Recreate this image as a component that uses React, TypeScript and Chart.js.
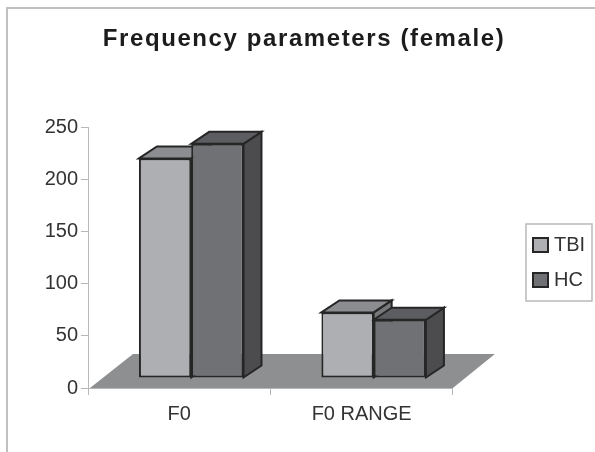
import React, { useEffect, useRef } from "react";
import { Chart, registerables } from "chart.js";

Chart.register(...registerables);

const categories = ["F0", "F0 RANGE"];
const tbiValues = [211, 63];
const hcValues = [225, 56];
const yTicks = [0, 50, 100, 150, 200, 250];
const seriesNames = ["TBI", "HC"];

const FONT = "'Liberation Sans', Arial, sans-serif";
const TBI_FRONT = "#aeafb2";
const TBI_TOP = "#8c8d90";
const TBI_SIDE = "#77787a";
const HC_FRONT = "#707174";
const HC_TOP = "#5c5d60";
const HC_SIDE = "#4c4c4e";
const EDGE = "#262626";
const LEGEND_BOX = { left: 526, top: 224, right: 592, bottom: 301 };

const poly = (ctx: CanvasRenderingContext2D, pts: number[][], fill: string, stroke?: string, lw = 2) => {
  ctx.beginPath();
  pts.forEach((p, i) => (i ? ctx.lineTo(p[0], p[1]) : ctx.moveTo(p[0], p[1])));
  ctx.closePath();
  ctx.fillStyle = fill;
  ctx.fill();
  if (stroke) {
    ctx.strokeStyle = stroke;
    ctx.lineWidth = lw;
    ctx.stroke();
  }
};

const BAR_SHIFT_X = 12;
const BAR_SHIFT_Y = -10;
const DEPTH_X = 18;
const DEPTH_Y = -12;

const scene = {
  id: "scene",
  beforeDraw(chart: any) {
    const { ctx } = chart;
    ctx.save();
    ctx.strokeStyle = "#c0c0c0";
    ctx.lineWidth = 2;
    ctx.beginPath();
    ctx.moveTo(7, 452);
    ctx.lineTo(7, 8);
    ctx.lineTo(595, 8);
    ctx.stroke();
    const a = chart.chartArea;
    poly(ctx, [
      [a.left + 2, a.bottom],
      [a.right, a.bottom],
      [a.right + 42, a.bottom - 34],
      [a.left + 45, a.bottom - 34],
    ], "#8e8f91");
    ctx.restore();
  },
  beforeDatasetsDraw(chart: any) {
    const { ctx } = chart;
    ctx.save();
    ctx.translate(BAR_SHIFT_X, BAR_SHIFT_Y);
    const tops = [TBI_TOP, HC_TOP];
    const sides = [TBI_SIDE, HC_SIDE];
    for (let d = 0; d < 2; d++) {
      chart.getDatasetMeta(d).data.forEach((bar: any) => {
        const l = bar.x - bar.width / 2;
        const r = bar.x + bar.width / 2;
        poly(ctx, [[r, bar.base], [r + DEPTH_X, bar.base + DEPTH_Y], [r + DEPTH_X, bar.y + DEPTH_Y], [r, bar.y]], sides[d], EDGE);
        poly(ctx, [[l, bar.y], [l + DEPTH_X, bar.y + DEPTH_Y], [r + DEPTH_X, bar.y + DEPTH_Y], [r, bar.y]], tops[d], EDGE);
      });
    }
  },
  afterDatasetsDraw(chart: any) {
    chart.ctx.restore();
  },
  afterLayout(chart: any) {
    const lg = chart.legend;
    const w = lg.right - lg.left;
    const h = lg.bottom - lg.top;
    lg.left = 518;
    lg.right = lg.left + w;
    lg.top = (LEGEND_BOX.top + LEGEND_BOX.bottom) / 2 - h / 2;
    lg.bottom = lg.top + h;

    const tb = chart.titleBlock;
    tb.left += 39;
    tb.right += 39;
    if (!tb.__spaced) {
      const original = tb.draw;
      tb.draw = function (...args: any[]) {
        chart.ctx.save();
        chart.ctx.letterSpacing = "1.6px";
        original.apply(this, args);
        chart.ctx.restore();
      };
      tb.__spaced = true;
    }
  },
  afterDraw(chart: any) {
    const { ctx } = chart;
    ctx.save();
    ctx.strokeStyle = "#b9b9b9";
    ctx.lineWidth = 1.5;
    ctx.strokeRect(LEGEND_BOX.left, LEGEND_BOX.top, LEGEND_BOX.right - LEGEND_BOX.left, LEGEND_BOX.bottom - LEGEND_BOX.top);
    const fronts = [TBI_FRONT, HC_FRONT];
    chart.legend.legendHitBoxes.forEach((hb: any, i: number) => {
      const cy = hb.top + hb.height / 2;
      ctx.fillStyle = fronts[i];
      ctx.fillRect(hb.left, cy - 7, 15, 14);
      ctx.strokeStyle = EDGE;
      ctx.lineWidth = 2;
      ctx.strokeRect(hb.left, cy - 7, 15, 14);
    });
    ctx.restore();
  },
};

export default function App() {
  const ref = useRef<HTMLCanvasElement>(null);
  useEffect(() => {
    const chart = new Chart(ref.current!, {
      type: "bar",
      plugins: [scene],
      data: {
        labels: categories,
        datasets: [
          { label: seriesNames[0], data: tbiValues, backgroundColor: TBI_FRONT, borderColor: EDGE, borderWidth: 2, borderSkipped: false },
          { label: seriesNames[1], data: hcValues, backgroundColor: HC_FRONT, borderColor: EDGE, borderWidth: 2, borderSkipped: false },
        ],
      },
      options: {
        responsive: false,
        animation: false,
        events: [],
        layout: { padding: { left: 0, top: 0, right: 65, bottom: 19 } },
        datasets: { bar: { categoryPercentage: 0.573, barPercentage: 1 } },
        scales: {
          x: {
            grid: { display: true, drawOnChartArea: false, color: "#b8b8b8", tickLength: 7, offset: true },
            border: { color: "#b8b8b8" },
            ticks: { color: "#333", font: { family: FONT, size: 20 }, padding: 7, maxRotation: 0 },
          },
          y: {
            min: 0,
            max: 250,
            afterFit(s: any) { s.width = 88; },
            afterBuildTicks(s: any) { s.ticks = yTicks.map((value) => ({ value })); },
            grid: { display: true, drawOnChartArea: false, color: "#b8b8b8", tickLength: 7 },
            border: { color: "#b8b8b8" },
            ticks: { color: "#333", font: { family: FONT, size: 20 }, padding: 3 },
          },
        },
        plugins: {
          tooltip: { enabled: false },
          title: {
            display: true,
            text: "Frequency parameters (female)",
            color: "#1c1c1c",
            font: { family: FONT, size: 24, weight: "bold" },
            padding: { top: 25, bottom: 74 },
          },
          legend: {
            position: "right",
            labels: {
              color: "#333",
              font: { family: FONT, size: 20 },
              boxWidth: 11,
              boxHeight: 14,
              padding: 15,
              generateLabels: (c: any) =>
                c.data.datasets.map((d: any, i: number) => ({
                  text: d.label,
                  fillStyle: "rgba(0,0,0,0)",
                  strokeStyle: "rgba(0,0,0,0)",
                  lineWidth: 0,
                  datasetIndex: i,
                  fontColor: "#333",
                })),
            },
          },
        },
      },
    } as any);
    return () => chart.destroy();
  }, []);
  return <canvas ref={ref} width={595} height={452} style={{ position: "absolute", left: 0, top: 0, display: "block" }} />;
}
